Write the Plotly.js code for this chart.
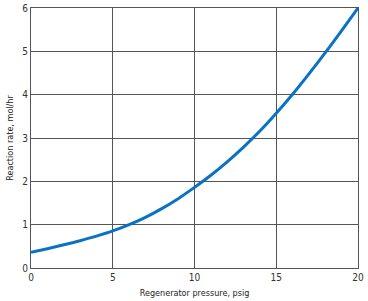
<!DOCTYPE html>
<html><head><meta charset="utf-8">
<script src="https://cdn.plot.ly/plotly-3.0.1.min.js"></script>
<style>html,body{margin:0;padding:0;background:#fff}</style>
</head><body><div id="chart" style="width:368px;height:301px"></div>
<script>
const pressure = [0,1,2,3,4,5,6,7,8,9,10,11,12,13,14,15,16,17,18,19,20];
const rate = [0.36,0.445,0.535,0.63,0.735,0.855,1.0,1.17,1.37,1.6,1.86,2.14,2.45,2.79,3.16,3.57,4.01,4.48,4.97,5.48,6.0];
const xTicks = [0,5,10,15,20];
const yTicks = [0,1,2,3,4,5,6];
const font = "'Liberation Sans Narrow','DejaVu Sans Condensed',sans-serif";
Plotly.newPlot('chart', [{
  x: pressure, y: rate, type: 'scatter', mode: 'lines',
  line: {color: '#0a72c4', width: 3, shape: 'spline', smoothing: 1},
  hoverinfo: 'skip'
}], {
  width: 368, height: 301,
  margin: {l: 31, r: 10, t: 8, b: 33},
  paper_bgcolor: '#fff', plot_bgcolor: '#fff',
  font: {family: font, size: 10, color: '#333'},
  showlegend: false,
  xaxis: {
    range: [0, 20], tickvals: xTicks, ticktext: xTicks.map(String),
    showgrid: true, gridcolor: '#555', gridwidth: 1,
    showline: true, linecolor: '#555', linewidth: 1, mirror: true,
    zeroline: false, ticks: '', ticklen: 0,
    tickfont: {family: font, size: 10, color: '#333'},
    title: {text: 'Regenerator pressure, psig', font: {family: font, size: 9, color: '#222'}, standoff: 7}
  },
  yaxis: {
    range: [0, 6], tickvals: yTicks, ticktext: yTicks.map(String),
    showgrid: true, gridcolor: '#555', gridwidth: 1,
    showline: true, linecolor: '#555', linewidth: 1, mirror: true,
    zeroline: false, ticks: '', ticklen: 0,
    tickfont: {family: font, size: 10, color: '#333'},
    title: {text: 'Reaction rate, mol/hr', font: {family: font, size: 9, color: '#222'}, standoff: 7}
  }
}, {displayModeBar: false, staticPlot: true});
</script></body></html>
